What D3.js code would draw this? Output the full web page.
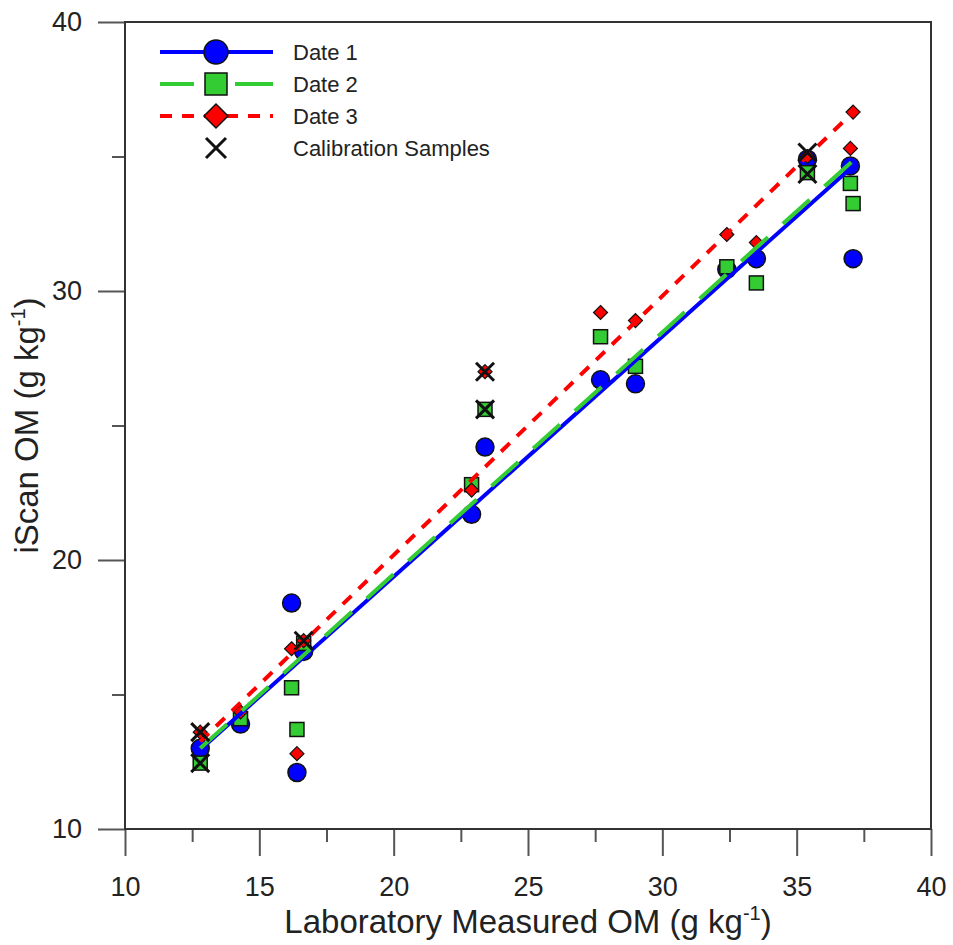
<!DOCTYPE html>
<html>
<head>
<meta charset="utf-8">
<script src="https://cdn.jsdelivr.net/npm/d3@7"></script>
<style>
  body { margin: 0; background: #fff; }
  text { font-family: "Liberation Sans", Arial, sans-serif; fill: #222; }
</style>
</head>
<body>
<div id="scatter"></div>
<script>
// lab measured OM for each sample
var labOM = [12.8, 14.3, 16.2, 16.4, 16.65, 22.9, 23.4, 27.7, 29.0, 32.4, 33.5, 35.4, 37.0, 37.1];
// iScan OM per date
var date1 = [13.0, 13.9, 18.4, 12.1, 16.6, 21.7, 24.2, 26.7, 26.55, 30.8, 31.2, 34.9, 34.65, 31.2];
var date2 = [12.45, 14.1, 15.25, 13.7, 16.9, 22.8, 25.6, 28.3, 27.2, 30.9, 30.3, 34.4, 34.0, 33.25];
var date3 = [13.6, 14.35, 16.7, 12.8, 17.0, 22.6, 27.0, 29.2, 28.9, 32.1, 31.8, 35.0, 35.3, 36.65];
// calibration samples
var calX = [12.8, 12.8, 16.65, 23.4, 23.4, 35.4, 35.4];
var calY = [13.6, 12.45, 17.0, 27.0, 25.6, 35.15, 34.35];
// fitted line ends [x0, y0, x1, y1]
var fit1 = [12.8, 12.95, 37.1, 34.65];
var fit2 = [12.8, 13.0, 37.1, 34.85];
var fit3 = [12.8, 13.25, 37.1, 36.65];

var majorTicks = [10, 15, 20, 25, 30, 35, 40];
var minorTicks = [12.5, 17.5, 22.5, 27.5, 32.5, 37.5];
var yMajor = [10, 20, 30, 40];
var yMinor = [15, 25, 35];

var svgWidth = 953;
var svgHeight = 945;

var margin = {
    top: 22,
    right: 22,
    bottom: 116,
    left: 125
};

var width = svgWidth - margin.left - margin.right;
var height = svgHeight - margin.top - margin.bottom;

var svg = d3.select("#scatter")
    .append("svg")
    .attr("width", svgWidth)
    .attr("height", svgHeight);

var chartGroup = svg.append("g")
    .attr("transform", `translate(${margin.left}, ${margin.top})`);

var xScale = d3.scaleLinear().domain([10, 40]).range([0, width]);
var yScale = d3.scaleLinear().domain([10, 40]).range([height, 0]);

// axes
function styleAxis(g) {
    g.select(".domain").remove();
    g.selectAll(".tick line").attr("stroke", "#555").attr("stroke-width", 2);
    g.selectAll(".tick text").attr("font-size", "27px").attr("fill", "#222");
}

chartGroup.append("g")
    .attr("transform", `translate(0, ${height})`)
    .call(d3.axisBottom(xScale).tickValues(majorTicks).tickSize(27).tickPadding(21).tickFormat(d3.format("d")))
    .call(styleAxis);
chartGroup.append("g")
    .attr("transform", `translate(0, ${height})`)
    .call(d3.axisBottom(xScale).tickValues(minorTicks).tickSize(13).tickFormat(""))
    .call(styleAxis);

chartGroup.append("g")
    .call(d3.axisLeft(yScale).tickValues(yMajor).tickSize(27).tickPadding(16).tickFormat(d3.format("d")))
    .call(styleAxis);
chartGroup.append("g")
    .call(d3.axisLeft(yScale).tickValues(yMinor).tickSize(13).tickFormat(""))
    .call(styleAxis);

chartGroup.append("rect")
    .attr("width", width)
    .attr("height", height)
    .attr("fill", "none")
    .attr("stroke", "#333")
    .attr("stroke-width", 2);

var diamond = "M0,-7L7,0L0,7L-7,0Z";
var cross = "M-9,-9L9,9M9,-9L-9,9";

// markers
chartGroup.selectAll(".d1")
    .data(labOM)
    .enter()
    .append("circle")
    .attr("cx", d => xScale(d))
    .attr("cy", (d, i) => yScale(date1[i]))
    .attr("r", 9)
    .attr("fill", "#0000ff")
    .attr("stroke", "#111")
    .attr("stroke-width", 1.5);

chartGroup.selectAll(".d2")
    .data(labOM)
    .enter()
    .append("rect")
    .attr("x", d => xScale(d) - 7)
    .attr("y", (d, i) => yScale(date2[i]) - 7)
    .attr("width", 14)
    .attr("height", 14)
    .attr("fill", "#33cc33")
    .attr("stroke", "#111")
    .attr("stroke-width", 1.5);

chartGroup.selectAll(".d3")
    .data(labOM)
    .enter()
    .append("path")
    .attr("d", diamond)
    .attr("transform", (d, i) => `translate(${xScale(d)}, ${yScale(date3[i])})`)
    .attr("fill", "#ff0000")
    .attr("stroke", "#111")
    .attr("stroke-width", 1.2);

// fit lines
var fits = [
    {f: fit1, color: "#0000ff", dash: null},
    {f: fit2, color: "#33cc33", dash: "36,20"},
    {f: fit3, color: "#ff0000", dash: "12,10"}
];
fits.forEach(function(s) {
    chartGroup.append("line")
        .attr("x1", xScale(s.f[0]))
        .attr("y1", yScale(s.f[1]))
        .attr("x2", xScale(s.f[2]))
        .attr("y2", yScale(s.f[3]))
        .attr("stroke", s.color)
        .attr("stroke-width", 4)
        .attr("stroke-dasharray", s.dash);
});

// calibration crosses
chartGroup.selectAll(".cal")
    .data(calX)
    .enter()
    .append("path")
    .attr("d", cross)
    .attr("transform", (d, i) => `translate(${xScale(d)}, ${yScale(calY[i])})`)
    .attr("fill", "none")
    .attr("stroke", "#111")
    .attr("stroke-width", 3);

// legend
var legend = svg.append("g");
var rows = [52, 84, 116, 148];
var names = ["Date 1", "Date 2", "Date 3", "Calibration Samples"];

legend.append("line").attr("x1", 160).attr("x2", 273).attr("y1", rows[0]).attr("y2", rows[0])
    .attr("stroke", "#0000ff").attr("stroke-width", 4);
legend.append("circle").attr("cx", 216).attr("cy", rows[0]).attr("r", 12)
    .attr("fill", "#0000ff").attr("stroke", "#111").attr("stroke-width", 1.5);

legend.append("line").attr("x1", 160).attr("x2", 194).attr("y1", rows[1]).attr("y2", rows[1])
    .attr("stroke", "#33cc33").attr("stroke-width", 4);
legend.append("line").attr("x1", 235).attr("x2", 273).attr("y1", rows[1]).attr("y2", rows[1])
    .attr("stroke", "#33cc33").attr("stroke-width", 4);
legend.append("rect").attr("x", 205).attr("y", rows[1] - 11).attr("width", 22).attr("height", 22)
    .attr("fill", "#33cc33").attr("stroke", "#111").attr("stroke-width", 1.5);

legend.append("line").attr("x1", 160).attr("x2", 273).attr("y1", rows[2]).attr("y2", rows[2])
    .attr("stroke", "#ff0000").attr("stroke-width", 4).attr("stroke-dasharray", "12,10");
legend.append("path").attr("d", "M0,-12L12,0L0,12L-12,0Z")
    .attr("transform", `translate(216, ${rows[2]})`)
    .attr("fill", "#ff0000").attr("stroke", "#111").attr("stroke-width", 1.5);

legend.append("path").attr("d", "M-10,-10L10,10M10,-10L-10,10")
    .attr("transform", `translate(216, ${rows[3]})`)
    .attr("stroke", "#111").attr("stroke-width", 3);

legend.selectAll(".lab")
    .data(names)
    .enter()
    .append("text")
    .attr("x", 293)
    .attr("y", (d, i) => rows[i])
    .attr("dy", "0.35em")
    .attr("font-size", "22px")
    .text(d => d);

// axis titles
var xt = svg.append("text")
    .attr("x", margin.left + width / 2)
    .attr("y", 933)
    .attr("text-anchor", "middle")
    .attr("font-size", "33px");
xt.append("tspan").text("Laboratory Measured OM (g kg");
xt.append("tspan").attr("dy", -13).attr("font-size", "20px").text("-1");
xt.append("tspan").attr("dy", 13).text(")");

var yt = svg.append("text")
    .attr("transform", `translate(38, ${margin.top + height / 2}) rotate(-90)`)
    .attr("text-anchor", "middle")
    .attr("font-size", "33px");
yt.append("tspan").text("iScan OM (g kg");
yt.append("tspan").attr("dy", -13).attr("font-size", "20px").text("-1");
yt.append("tspan").attr("dy", 13).text(")");
</script>
</body>
</html>
